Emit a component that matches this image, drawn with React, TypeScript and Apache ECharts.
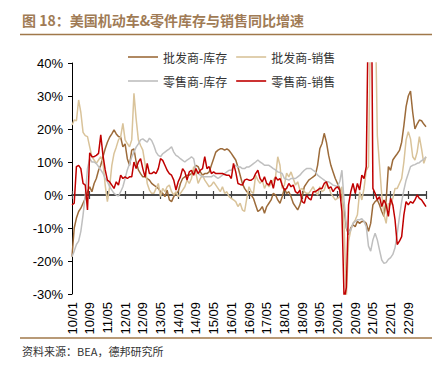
import React, { useEffect, useRef } from 'react';
import * as echarts from 'echarts';

// Monthly categories 2010-01 .. 2023-05 (label format YY/MM)
const categories: string[] = [];
for (let y = 10; y <= 23; y++) {
  for (let mo = 1; mo <= 12; mo++) {
    if (y === 23 && mo > 5) break;
    categories.push(`${y}/${String(mo).padStart(2, '0')}`);
  }
}

const seriesNames = ['批发商-库存', '批发商-销售', '零售商-库存', '零售商-销售'];

// 批发商-库存
const wholesaleInv = [
  -18.7, -10, -7, -5, -4, -2.5, -1, 1, 2.5, 1, 3.5, 5,
  7.5, 9, 11.6, 14, 16, 17.5, 18.5, 19.7, 18.5, 17.7, 17.5, 14.6,
  15.5, 11, 9, 13.6, 14, 10, 7.6, 6.5, 5.5, 5.5, 5, 4.5,
  3.5, 3, 2.5, 2, 1, 0.5, -0.5, 1.5, -1.5, -2, -0.5, 0.5,
  1, 3.5, 5, 5.5, 6, 6, 6.5, 7.5, 9, 8.6, 7, 6,
  6.5, 6.5, 7, 9, 11, 13, 13.6, 14, 14, 13.6, 14, 13.5,
  12.6, 11.6, 10.6, 8.5, 6, 3.5, 2, 1, 0.5, 0, -1, -3,
  -5, -4.5, -3.5, -5.5, -3.5, -2.5, -1.5, 0.5, 0, -1.5, -2.5, -0.5,
  2, 0.5, 1, -0.5, -2.5, -3.5, -4.5, -3, -0.5, 2.5, 3.5, 4.5,
  5, 5.5, 6, 9, 14, 15.6, 18.7, 16, 12, 9, 7, 5,
  3.5, 2, -1, -4.5, -10, -12, -10, -9, -9.6, -8, -8.6, -8,
  -8, -8.6, -11, -8.6, -3, -2, -1.5, -3, -5, -6.5, -1.5, 8.6,
  7.5, 10.6, 11.6, 12.5, 13.5, 16, 21, 26.8, 30, 31.5, 25, 20,
  21.5, 22.7, 22.5, 21.5, 20.7,
];

// 批发商-销售
const wholesaleSales = [
  21.2, 22.7, 22.5, 28.8, 25, 19, 18, 17.7, 14.6, 11.6, 10.6, 9.6,
  10.6, 11.6, 10, 3, -2, 2.5, 9, 12.6, 14.5, 16.7, 17.7, 21.7,
  16.7, 15.6, 14.6, 16.7, 30.8, 23, 16.7, 15, 13.6, 9.5, 3.5, 1.5,
  0.5, 0.5, 2, 3.5, -0.5, 2, 1, 2.5, 3, 1, 0, 1,
  -0.5, 0.5, 1.5, 2.5, 4.5, 3.5, 5, 8.6, 6.6, 3.5, 5, 6,
  4.5, 3.5, 2.5, 3, 4, 3, 2, 1, 2.5, 0.5, 1, -0.5,
  -1, -1.5, -2, -3.5, -2.5, -4.5, -5, -1, 2.5, 1, 0.5, 6,
  4.5, 3.5, 4.5, 2, 3.5, 2.5, 3.5, 4.5, 5.5, 11.6, 9, 2,
  3, 6.6, 5.5, 7, 5, 3, 4, 1.5, 2, 1, 0.5, 0.5,
  1.5, 2.5, 1, 0, 2.5, 1, 1.5, 3.5, 2.5, 0.5, -0.5, -1.5,
  -1, -0.5, 2.5, -10, -31, -14, -10.6, -8.6, -7.6, -6, 1, -1.5,
  2, 7.5, 8.6, 55, 62, 60, 18, 9, 0, -6, -8.6, -2.5,
  -3, -1, 2, 2, 3.5, 5, 10, 16.7, 19.2, 17, 11.6, 10.6,
  13, 17.7, 14, 9.6, 11.6,
];

// 零售商-库存
const retailInv = [
  -18.7, -17, -15, -14, -11, -6, 0, 8, 11, 10, 10, 9.5,
  8.6, 7.6, 6.6, 5, 4, 2.5, 1.5, 0.5, 0, -0.3, 1, 2.5,
  5, 7.6, 9.5, 11.5, 13, 14.5, 15.5, 16.7, 17, 16.5, 16, 17.2,
  16.5, 15, 13, 12, 11.6, 12.5, 13, 13.5, 14, 14.6, 13, 12,
  11.6, 11, 10.5, 10, 10.6, 11, 11.6, 11, 7.5, 6.5, 6, 5.5,
  5.5, 5.5, 5.5, 5.5, 6, 5.5, 5, 5.5, 6, 6.5, 7, 7.5,
  7.5, 8.5, 9, 8.5, 8.5, 8, 8, 8.5, 8.5, 9, 9.5, 10,
  10.6, 10, 9.6, 9, 9, 9, 8.5, 8, 7.6, 7, 6.8, 6.5,
  5, 4.8, 4.5, 5, 5, 5, 5.5, 6, 6.8, 7.5, 8, 8,
  8, 7.5, 7, 6, 5.5, 5, 4.5, 4, 4, 3.5, 3, 2.8,
  2.5, 4, 7.5, -2, -9.6, -11.6, -10.6, -8.6, -8, -7.5, -7.5, -7.2,
  -8, -9.6, -15.5, -17, -13.6, -11.6, -13.6, -16.7, -19.7, -20.7, -20.5, -19.5,
  -19, -18, -16, -11.6, -6.6, -2, 1.5, 4.5, 6.5, 8.6, 9, 9.2,
  9.6, 9.8, 10.4, 10.8, 11.6,
];

// 零售商-销售
const retailSales = [
  -3, -2.5, 8.6, 9, 8, 3.5, 3, -4.5, 12.8, 11.6, 11.6, 12,
  12.6, 18.2, 12, 7.6, 4.5, 4, 3, 2, 4, 3, 6, 5,
  5.5, 5, 5.5, 5.5, 10, 8, 10, 11, 8, 5.5, 9.6, 6.5,
  6.5, 7, 6.5, 8, 11, 10.5, 9, 7.5, 6.5, 6, 4.5, 1.5,
  4, 5.5, 8, 7, 4.5, 7, 7.5, 6, 8, 6.5, 7.5, 8,
  11.6, 8, 8.6, 6.5, 7, 6.5, 6.5, 6.5, 6.5, 6.2, 6, 6,
  5, 9.6, 7, 3.5, 3.2, 3, 4.5, 4.8, 4.5, 4.5, 5, 6.5,
  7.5, 5, 4, 5.5, 3.5, 3, 4.5, 2, 5.5, 4.5, 5, 3,
  1.5, 2, 3.5, 2.5, 3, 1, 0.5, 1.5, -2, -2.5, 0, -1,
  -1.5, 1, 1, 1.5, 2, 2, 3.5, 4, 2, 2.5, 1, 2,
  2.5, 1.5, -5, -32, -28, -3, 1, 3.5, 0.5, 3.5, 1.5, 6,
  5, 8.6, 60, 95, 2, 0.5, -1.5, -0.5, -3.5, -1.5, -3, -6.5,
  -1, -3, -7.5, -15, -14, -12.6, -6, -2, -3, -2, -2.5, -1.5,
  0, -1, -1.5, -2.5, -3.5,
];

const seriesData = [wholesaleInv, wholesaleSales, retailInv, retailSales];
const colors = ['#9C6B3A', '#D9C39A', '#BFBFBF', '#C00000'];

const CJK = '"Noto Sans CJK SC", sans-serif';
const LATIN = '"Liberation Sans", Arial, sans-serif';
const LINE_ICON = 'path://M0,0H30V1.6H0Z';

export default function App() {
  const ref = useRef<HTMLDivElement>(null);

  useEffect(() => {
    if (!ref.current) return;
    const chart = echarts.init(ref.current, undefined, { renderer: 'svg' });

    const zeroAxisBase = {
      type: 'category',
      data: categories,
      boundaryGap: false,
      position: 'bottom',
      axisLine: { show: true, onZero: true, onZeroAxisIndex: 0, lineStyle: { color: '#404040', width: 1.5 } },
      axisLabel: { show: false },
      splitLine: { show: false },
    };

    const legendBase = {
      left: 128,
      padding: 0,
      itemWidth: 30,
      itemHeight: 12,
      itemGap: 9,
      icon: LINE_ICON,
      textStyle: { fontSize: 12, color: '#333', fontFamily: CJK },
    };

    chart.setOption({
      animation: false,
      backgroundColor: '#ffffff',
      title: {
        text: '图 18：美国机动车&零件库存与销售同比增速',
        left: 22,
        top: 13,
        padding: 0,
        textStyle: { fontSize: 14, fontWeight: 'bold', color: '#A07B55', fontFamily: CJK },
      },
      graphic: [
        { type: 'line', shape: { x1: 20, y1: 34.5, x2: 432, y2: 34.5 }, style: { stroke: '#A0784A', lineWidth: 1.5 } },
        { type: 'line', shape: { x1: 20, y1: 338, x2: 432, y2: 338 }, style: { stroke: '#A0784A', lineWidth: 1.5 } },
        {
          type: 'text',
          left: 22,
          top: 345,
          style: { text: '资料来源：BEA，德邦研究所', fill: '#333', fontSize: 11, fontFamily: CJK },
        },
      ],
      legend: [
        { ...legendBase, data: [seriesNames[0], seriesNames[1]], top: 51 },
        { ...legendBase, data: [seriesNames[2], seriesNames[3]], top: 75 },
      ],
      grid: { left: 72, right: 18, top: 63, bottom: 72, containLabel: false },
      xAxis: [
        {
          type: 'category',
          data: categories,
          boundaryGap: false,
          position: 'bottom',
          axisLine: { show: false, onZero: false },
          axisTick: { show: false },
          axisLabel: {
            interval: (i: number) => i % 8 === 0 && i < 160,
            rotate: 90,
            fontSize: 13,
            color: '#000',
            margin: 8,
            fontFamily: LATIN,
          },
          splitLine: { show: false },
        },
        {
          ...zeroAxisBase,
          axisTick: { show: true, interval: 7, length: 4, inside: false, lineStyle: { color: '#404040', width: 1.2 } },
        },
        {
          ...zeroAxisBase,
          axisTick: { show: true, interval: 7, length: 4, inside: true, lineStyle: { color: '#404040', width: 1.2 } },
        },
      ],
      yAxis: {
        type: 'value',
        min: -30,
        max: 40,
        interval: 10,
        axisLine: { show: true, lineStyle: { color: '#000', width: 1 } },
        axisTick: { show: true, length: 4, lineStyle: { color: '#000' } },
        axisLabel: { formatter: '{value}%', fontSize: 13, color: '#000', margin: 9, fontFamily: LATIN },
        splitLine: { show: false },
      },
      series: seriesNames.map((name, i) => ({
        name,
        type: 'line',
        data: seriesData[i],
        symbol: 'none',
        showSymbol: false,
        clip: true,
        color: colors[i],
        itemStyle: { color: colors[i] },
        lineStyle: { color: colors[i], width: 1.5 },
      })),
    });

    return () => {
      chart.dispose();
    };
  }, []);

  return (
    <div
      ref={ref}
      style={{ position: 'fixed', left: 0, top: 0, width: 444, height: 366, background: '#fff' }}
    />
  );
}
